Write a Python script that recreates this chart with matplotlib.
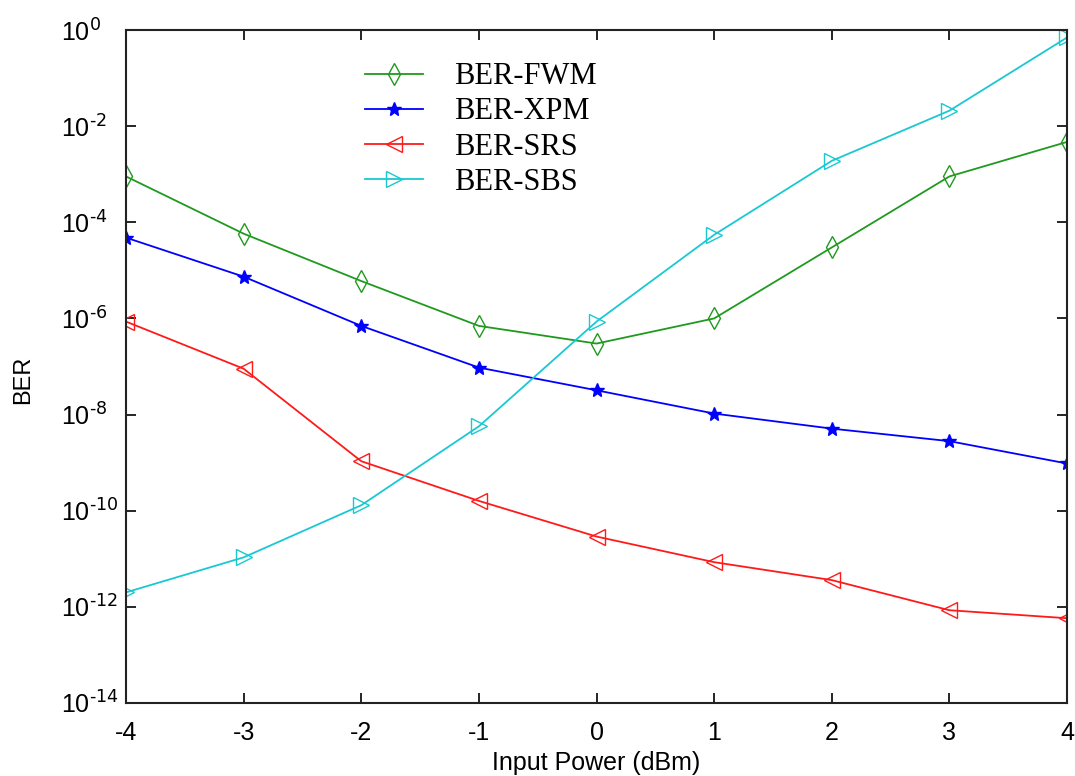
import matplotlib.pyplot as plt
from matplotlib.ticker import FixedLocator, NullLocator

# Data
power = [-4, -3, -2, -1, 0, 1, 2, 3, 4]

ber_fwm = [9e-4, 5.8e-5, 6e-6, 7e-7, 3e-7, 1e-6, 3e-5, 9e-4, 4.7e-3]
ber_xpm = [4.8e-5, 7.4e-6, 7e-7, 9.5e-8, 3.2e-8, 1.05e-8, 5.1e-9, 2.8e-9, 9.6e-10]
ber_srs = [8.6e-7, 9e-8, 1.07e-9, 1.6e-10, 2.9e-11, 8.5e-12, 3.6e-12, 8.5e-13, 5.8e-13]
ber_sbs = [2e-12, 1.07e-11, 1.3e-10, 5.7e-9, 8.6e-7, 5.5e-5, 1.9e-3, 2.1e-2, 0.7]

ytick_exp = [0, -2, -4, -6, -8, -10, -12, -14]

plt.rcParams['font.family'] = ['Liberation Sans', 'DejaVu Sans']
plt.rcParams['mathtext.default'] = 'regular'

fig = plt.figure(figsize=(10.75, 7.76), dpi=100)
ax = fig.add_axes([0.1172, 0.0941, 0.8754, 0.8672])

ax.plot(power, ber_fwm, color='#1f9a1f', lw=1.3, marker='d', ms=11,
        mfc='none', mew=1.0, label='BER-FWM')
ax.plot(power, ber_xpm, color='#0000ff', lw=1.3, marker='*', ms=10,
        mew=1.0, label='BER-XPM')
ax.plot(power, ber_srs, color='#ff1a1a', lw=1.3, marker='<', ms=12,
        mfc='none', mew=1.0, label='BER-SRS')
ax.plot(power, ber_sbs, color='#19c8d2', lw=1.3, marker='>', ms=12,
        mfc='none', mew=1.0, label='BER-SBS')

ax.set_yscale('log')
ax.set_xlim(-4, 4)
ax.set_ylim(1e-14, 1)
ax.set_xticks(power)
ax.set_xticklabels([str(p) for p in power])
ax.yaxis.set_major_locator(FixedLocator([10.0 ** e for e in ytick_exp]))
ax.yaxis.set_minor_locator(NullLocator())
ax.set_yticklabels(['$10^{\\text{%d}}$' % e for e in ytick_exp])

ax.tick_params(direction='in', length=7, width=1.2, top=True, right=True,
               labelsize=18)
ax.tick_params(axis='x', pad=13)
ax.tick_params(axis='y', pad=47)
for lab in ax.get_yticklabels():
    lab.set_horizontalalignment('left')
for s in ax.spines.values():
    s.set_linewidth(1.5)
    s.set_color('#222222')

ax.set_xlabel('Input Power (dBm)', fontsize=18, labelpad=4)
ax.set_ylabel('BER', fontsize=17)
ax.yaxis.set_label_coords(-0.098, 0.48)

ax.legend(loc='upper left', bbox_to_anchor=(0.254, 0.952), frameon=False,
          prop={'family': 'Liberation Serif', 'size': 22},
          borderaxespad=0, borderpad=0,
          handlelength=1.9, handletextpad=1.0, labelspacing=0.2)

fig.savefig('out.png', dpi=100)
